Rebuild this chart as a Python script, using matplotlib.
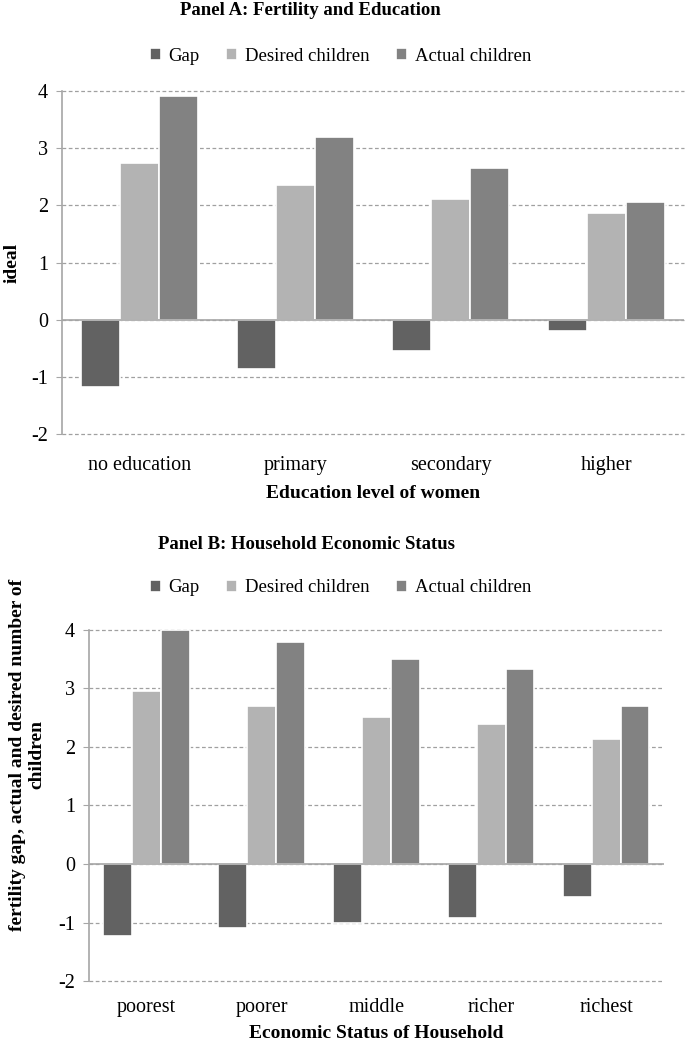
import numpy as np
import matplotlib

matplotlib.use("Agg")
import matplotlib.pyplot as plt

plt.rcParams["font.family"] = ["Liberation Serif", "DejaVu Serif"]
plt.rcParams["axes.unicode_minus"] = False

# Panel A: fertility by education level
edu_levels = ["no education", "primary", "secondary", "higher"]
edu_gap = [-1.17, -0.86, -0.55, -0.19]
edu_desired = [2.74, 2.35, 2.11, 1.86]
edu_actual = [3.92, 3.20, 2.66, 2.05]

# Panel B: fertility by household wealth
wealth_levels = ["poorest", "poorer", "middle", "richer", "richest"]
wealth_gap = [-1.23, -1.09, -1.00, -0.92, -0.56]
wealth_desired = [2.96, 2.70, 2.51, 2.40, 2.14]
wealth_actual = [4.00, 3.79, 3.51, 3.33, 2.70]

series_names = ["Gap", "Desired children", "Actual children"]
colors = ["#626262", "#b3b3b3", "#828282"]
AXIS_GREY = "#a6a6a6"


def draw_panel(ax, cats, gap, desired, actual, tick_pad):
    x = np.arange(len(cats))
    w = 0.25
    handles = []
    for i, (vals, name, col) in enumerate(zip([gap, desired, actual], series_names, colors)):
        h = ax.bar(x + (i - 1) * w, vals, w, color=col, edgecolor="white", linewidth=1.2,
                   label=name, zorder=3)
        handles.append(h)
    ax.set_xlim(-0.5, len(cats) - 0.5)
    ax.set_ylim(-2, 4)
    ax.set_yticks(range(-2, 5))
    ax.set_xticks(x)
    ax.set_xticklabels(cats, fontsize=14.5)
    ax.tick_params(axis="x", length=0, pad=tick_pad)
    ax.tick_params(axis="y", labelsize=14.5, length=4, color=AXIS_GREY, pad=6)
    ax.yaxis.grid(True, linestyle=(0, (3, 2)), color="#a0a0a0", linewidth=0.9, zorder=0)
    for gl in ax.get_ygridlines():
        gl.set_clip_on(False)
    ax.axhline(0, color=AXIS_GREY, linewidth=1.2, zorder=4)
    for s in ["top", "right", "bottom"]:
        ax.spines[s].set_visible(False)
    ax.spines["left"].set_color(AXIS_GREY)
    ax.spines["left"].set_linewidth(1.2)
    return handles


fig = plt.figure(figsize=(6.85, 10.44), dpi=100)

# Panel A
axA = fig.add_axes([0.0905, 0.5843, 0.908, 0.3285])
hA = draw_panel(axA, edu_levels, edu_gap, edu_desired, edu_actual, tick_pad=16)
axA.set_ylabel("ideal", fontsize=14, fontweight="bold")
axA.yaxis.set_label_coords(-0.067, 0.5)
axA.set_xlabel("Education level of women", fontsize=14, fontweight="bold", labelpad=7)
fig.text(0.453, 0.998, "Panel A: Fertility and Education", ha="center", va="top",
         fontsize=13.5, fontweight="bold")
fig.legend(hA, series_names, loc="center", bbox_to_anchor=(0.497, 0.946), ncol=3,
           frameon=False, fontsize=13.5, handlelength=0.6, handleheight=0.6,
           handletextpad=0.4, columnspacing=1.4)

# Panel B
axB = fig.add_axes([0.13, 0.0603, 0.839, 0.3363])
hB = draw_panel(axB, wealth_levels, wealth_gap, wealth_desired, wealth_actual, tick_pad=12)
axB.set_ylabel("fertility gap, actual and desired number of\nchildren", fontsize=14,
               fontweight="bold", linespacing=1.15)
axB.yaxis.set_label_coords(-0.0765, 0.644)
axB.set_xlabel("Economic Status of Household", fontsize=14, fontweight="bold", labelpad=6)
fig.text(0.447, 0.487, "Panel B: Household Economic Status", ha="center", va="top",
         fontsize=13.5, fontweight="bold")
fig.legend(hB, series_names, loc="center", bbox_to_anchor=(0.497, 0.437), ncol=3,
           frameon=False, fontsize=13.5, handlelength=0.6, handleheight=0.6,
           handletextpad=0.4, columnspacing=1.4)

fig.savefig("out.png", dpi=100)
